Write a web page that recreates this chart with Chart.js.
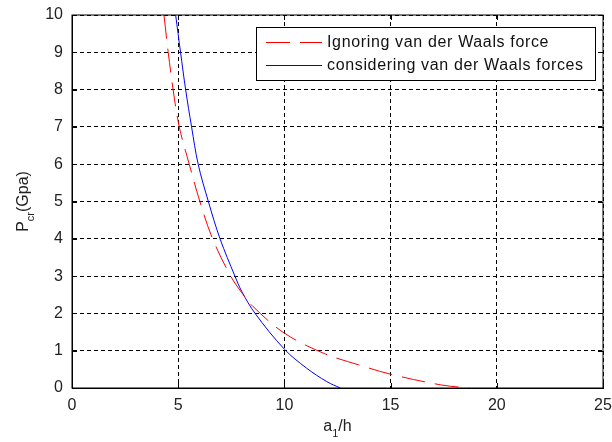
<!DOCTYPE html>
<html>
<head>
<meta charset="utf-8">
<script src="https://cdn.jsdelivr.net/npm/chart.js@4/dist/chart.umd.min.js"></script>
<style>
  html,body{margin:0;padding:0;background:#fff;}
  #wrap{width:612px;height:442px;}
</style>
</head>
<body>
<div id="wrap"><canvas id="c" width="612" height="442"></canvas></div>
<script>
// a1/h values and Pcr (GPa)
const ignoreX = [4.33, 4.53, 4.76, 5.05, 5.52, 6.02, 6.62, 7.47, 8.0, 8.53, 10, 11.85, 13.5, 15, 17.4, 18.7];
const ignoreY = [10, 9, 8, 7, 6, 5, 4, 3, 2.55, 2.18, 1.47, 0.93, 0.62, 0.37, 0.08, 0];
const vdwX = [4.88, 5.11, 5.35, 5.63, 5.94, 6.42, 6.97, 7.67, 8.0, 8.62, 10, 11.05, 12, 12.63];
const vdwY = [10, 9, 8, 7, 6, 5, 4, 3, 2.58, 2, 1.04, 0.53, 0.17, 0];
const legendLabels = ['Ignoring van der Waals force', 'considering van der Waals forces'];
const xTicks = [0, 5, 10, 15, 20, 25];
const yTicks = [0, 1, 2, 3, 4, 5, 6, 7, 8, 9, 10];

const FONT = 'Arial, "Liberation Sans", sans-serif';
const FS = 16;

function pts(xs, ys){ return xs.map((x,i)=>({x, y: ys[i]})); }

const boxPlugin = {
  id: 'box',
  afterDraw(chart){
    const {ctx, chartArea: a, scales:{x, y}} = chart;
    ctx.save();
    ctx.strokeStyle = '#000';
    ctx.lineWidth = 1;
    ctx.setLineDash([]);
    ctx.strokeRect(a.left, a.top, a.right - a.left, a.bottom - a.top);
    // inward ticks on all sides
    ctx.beginPath();
    xTicks.forEach(v=>{
      const px = Math.round(x.getPixelForValue(v)) + 0.5;
      ctx.moveTo(px, a.bottom); ctx.lineTo(px, a.bottom - 5);
      ctx.moveTo(px, a.top); ctx.lineTo(px, a.top + 5);
    });
    yTicks.forEach(v=>{
      const py = Math.round(y.getPixelForValue(v)) + 0.5;
      ctx.moveTo(a.left, py); ctx.lineTo(a.left + 5, py);
      ctx.moveTo(a.right, py); ctx.lineTo(a.right - 5, py);
    });
    ctx.stroke();

    // legend
    const lx = 256, ly = 27, lw = 339, lh = 53;
    ctx.fillStyle = '#fff';
    ctx.fillRect(lx, ly, lw, lh);
    ctx.strokeRect(lx + 0.5, ly + 0.5, lw, lh);
    ctx.font = FS + 'px ' + FONT;
    ctx.textBaseline = 'middle';
    ctx.textAlign = 'left';
    ctx.letterSpacing = '0.65px';
    const rows = [{c:'#ff0000', dash:[24,10], y: ly + 15}, {c:'#0000ff', dash:[], y: ly + 38}];
    rows.forEach((r,i)=>{
      ctx.strokeStyle = r.c;
      ctx.setLineDash(r.dash);
      ctx.beginPath();
      ctx.moveTo(lx + 10, r.y + 0.5); ctx.lineTo(lx + 66, r.y + 0.5);
      ctx.stroke();
      ctx.fillStyle = '#111';
      ctx.fillText(legendLabels[i], lx + 71, r.y + 1);
    });
    ctx.letterSpacing = '0px';
    ctx.setLineDash([]);

    // axis titles with subscripts
    ctx.fillStyle = '#222';
    ctx.font = FS + 'px ' + FONT;
    ctx.textBaseline = 'alphabetic';
    const xt = (a.left + a.right) / 2;
    const w1 = ctx.measureText('a').width;
    ctx.font = '11px ' + FONT;
    const w2 = ctx.measureText('1').width;
    ctx.font = FS + 'px ' + FONT;
    const w3 = ctx.measureText('/h').width;
    let sx = xt - (w1 + w2 + w3) / 2;
    ctx.fillText('a', sx, 431);
    ctx.font = '11px ' + FONT;
    ctx.fillText('1', sx + w1, 437);
    ctx.font = FS + 'px ' + FONT;
    ctx.fillText('/h', sx + w1 + w2, 431);

    ctx.translate(28, (a.top + a.bottom) / 2);
    ctx.rotate(-Math.PI / 2);
    const p1 = ctx.measureText('P').width;
    ctx.font = '11px ' + FONT;
    const p2 = ctx.measureText('cr').width;
    ctx.font = FS + 'px ' + FONT;
    const p3 = ctx.measureText('(Gpa)').width;
    let sy = -(p1 + p2 + p3) / 2;
    ctx.fillText('P', sy, 0);
    ctx.font = '11px ' + FONT;
    ctx.fillText('cr', sy + p1, 6);
    ctx.font = FS + 'px ' + FONT;
    ctx.fillText('(Gpa)', sy + p1 + p2, 0);
    ctx.restore();
  }
};

new Chart(document.getElementById('c').getContext('2d'), {
  type: 'line',
  data: {
    datasets: [
      {label: legendLabels[0], data: pts(ignoreX, ignoreY), borderColor: '#ff0000', borderWidth: 1,
       borderDash: [24, 10], pointRadius: 0, tension: 0.35, fill: false},
      {label: legendLabels[1], data: pts(vdwX, vdwY), borderColor: '#0000ff', borderWidth: 1,
       pointRadius: 0, tension: 0.35, fill: false}
    ]
  },
  options: {
    responsive: false,
    animation: false,
    layout: {padding: {top: 15, right: 9, left: 0, bottom: 0}},
    plugins: {legend: {display: false}, tooltip: {enabled: false}},
    scales: {
      x: {
        type: 'linear', min: 0, max: 25,
        afterBuildTicks: s => { s.ticks = xTicks.map(v=>({value: v})); },
        afterFit: s => { s.height = 54; s.paddingRight = 0; s.paddingLeft = 0; },
        grid: {color: '#000', drawTicks: false},
        border: {display: true, color: '#000', dash: [4,3]},
        ticks: {color: '#222', font: {family: FONT, size: FS}, padding: 8, maxRotation: 0}
      },
      y: {
        type: 'linear', min: 0, max: 10,
        afterBuildTicks: s => { s.ticks = yTicks.map(v=>({value: v})); },
        afterFit: s => { s.width = 72; s.paddingTop = 0; s.paddingBottom = 0; },
        grid: {color: '#000', drawTicks: false},
        border: {display: true, color: '#000', dash: [4,3]},
        ticks: {color: '#222', font: {family: FONT, size: FS}, padding: 9}
      }
    }
  },
  plugins: [boxPlugin]
});
</script>
</body>
</html>
